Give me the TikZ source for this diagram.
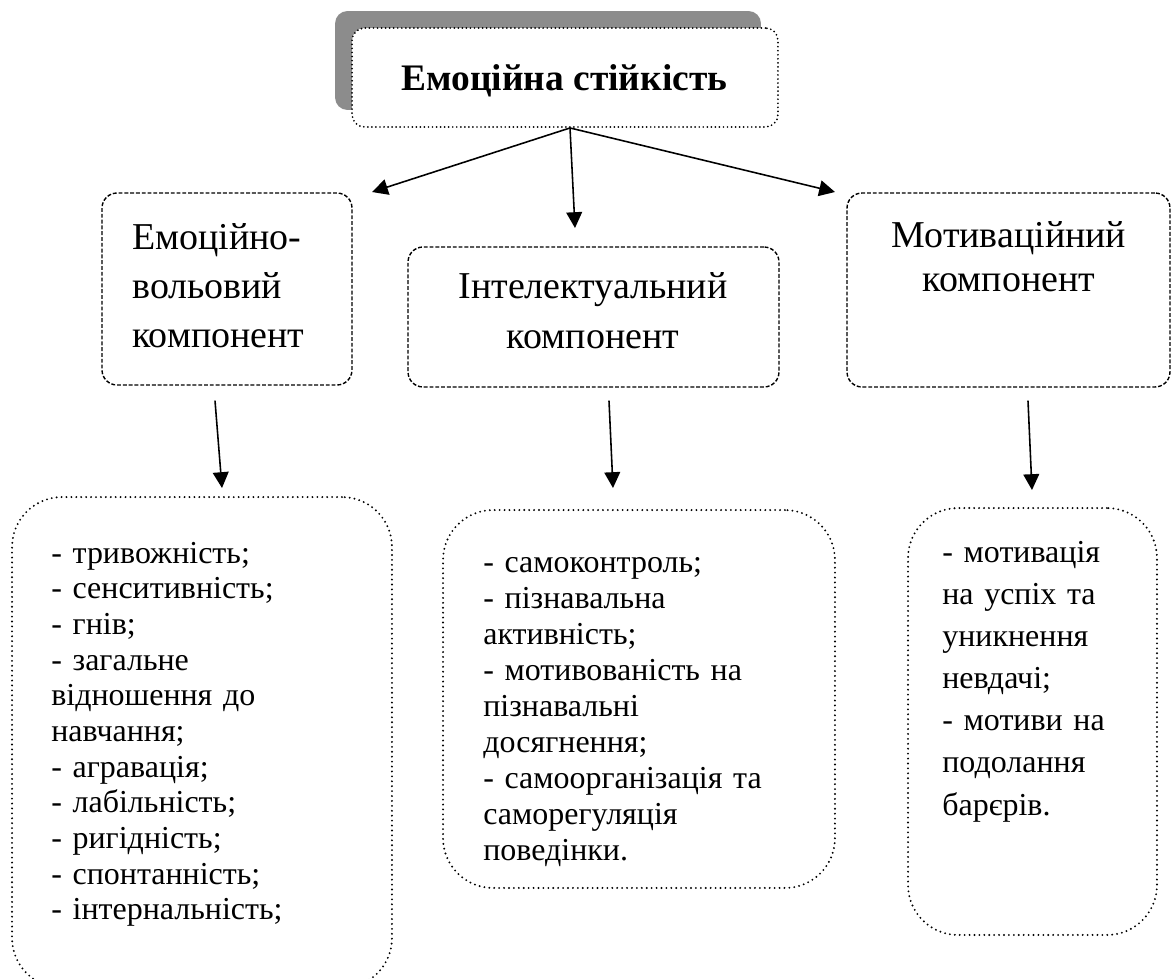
\documentclass[tikz,border=0pt]{standalone}
\usepackage{fontspec}
\setmainfont{Liberation Serif}
\usetikzlibrary{positioning,calc,shadows}
\usetikzlibrary{arrows.meta}

\tikzset{
	titlebox/.style={rectangle, draw, line width=1.1pt, line cap=round, dash pattern=on 0pt off 2.3pt, rounded corners=.25cm, fill=white, drop shadow={shadow xshift=-0.34cm, shadow yshift=0.34cm, fill=black!45, opacity=1}},
	compbox/.style={rectangle, draw, line width=0.8pt, dash pattern=on 2.2pt off 1.1pt, rounded corners=.3cm},
	listbox/.style={rectangle, draw, line width=1.2pt, line cap=round, dash pattern=on 0pt off 2.8pt, rounded corners=1cm},
	txt/.style={inner sep=0pt, anchor=base west, align=left},
	arr/.style={-{Triangle[length=9pt,width=9pt]}, line width=0.9pt},
}

\begin{document}
\begin{tikzpicture}[x=0.02cm, y=-0.02cm]
				\useasboundingbox (0,0) rectangle (1174,978);
				% top
				\node[titlebox, minimum width=8.52cm, minimum height=1.98cm] (title) at (565,77.5) {};
				\node[inner sep=0pt, anchor=base, font=\fontsize{21.3}{24}\selectfont\bfseries] (titletxt) at (564.5,90) {Емоційна стійкість};
				% components
				\node[compbox, minimum width=5cm, minimum height=3.84cm] (emo) at (227,289) {};
				\node[compbox, minimum width=7.42cm, minimum height=2.8cm] (intel) at (593.5,317) {};
				\node[compbox, minimum width=6.46cm, minimum height=3.88cm] (motiv) at (1008.5,290) {};
				\node[txt, text width=4.4cm, font=\fontsize{21.6}{28}\selectfont] (emotxt) at (132,249) {Емоційно-\\вольовий\\компонент};
				\node[txt, anchor=base, align=center, text width=7cm, font=\fontsize{21.6}{28.5}\selectfont] (inteltxt) at (593,298) {Інтелектуальний\\компонент};
				\node[txt, anchor=base, align=center, text width=6cm, font=\fontsize{21.6}{25.6}\selectfont] (motivtxt) at (1009,247) {Мотиваційний\\компонент};
				% lists
				\node[listbox, minimum width=7.6cm, minimum height=9.82cm] (emolist) at (202,742.5) {};
				\node[listbox, minimum width=7.84cm, minimum height=7.56cm] (intellist) at (639,699) {};
				\node[listbox, minimum width=4.98cm, minimum height=8.54cm] (motivlist) at (1032.5,721.5) {};
				\node[txt, text width=6.5cm, font=\fontsize{18.2}{20.3}\selectfont] (emolisttxt) at (51,563) {- тривожність;\\- сенситивність;\\- гнів;\\- загальне\\відношення до\\навчання;\\- агравація;\\- лабільність;\\- ригідність;\\- спонтанність;\\- інтернальність;};
				\node[txt, text width=6.6cm, font=\fontsize{18.2}{20.5}\selectfont] (intellisttxt) at (483,572) {- самоконтроль;\\- пізнавальна\\активність;\\- мотивованість на\\пізнавальні\\досягнення;\\- самоорганізація та\\саморегуляція\\поведінки.};
				\node[txt, text width=4cm, font=\fontsize{18.2}{24}\selectfont] (motivlisttxt) at (942,562) {- мотивація\\на успіх та\\уникнення\\невдачі;\\- мотиви на\\подолання\\барєрів.};
				% arrow ends
				\coordinate (emo-in) at (372,192);
				\coordinate (intel-in) at (575,228);
				\coordinate (motiv-in) at (835,192);
				\coordinate (emolist-in) at (222,488);
				\coordinate (intellist-in) at (613,488);
				\coordinate (motivlist-in) at (1032,490);
				\draw[arr] ([xshift=0.1cm]title.south) -- (emo-in);
				\draw[arr] ([xshift=0.1cm]title.south) -- (intel-in);
				\draw[arr] ([xshift=0.1cm]title.south) -- (motiv-in);
				\draw[arr] ([xshift=-0.24cm, yshift=-0.3cm]emo.south) -- (emolist-in);
				\draw[arr] ([xshift=0.31cm, yshift=-0.26cm]intel.south) -- (intellist-in);
				\draw[arr] ([xshift=0.39cm, yshift=-0.26cm]motiv.south) -- (motivlist-in);
			\end{tikzpicture}
\end{document}
